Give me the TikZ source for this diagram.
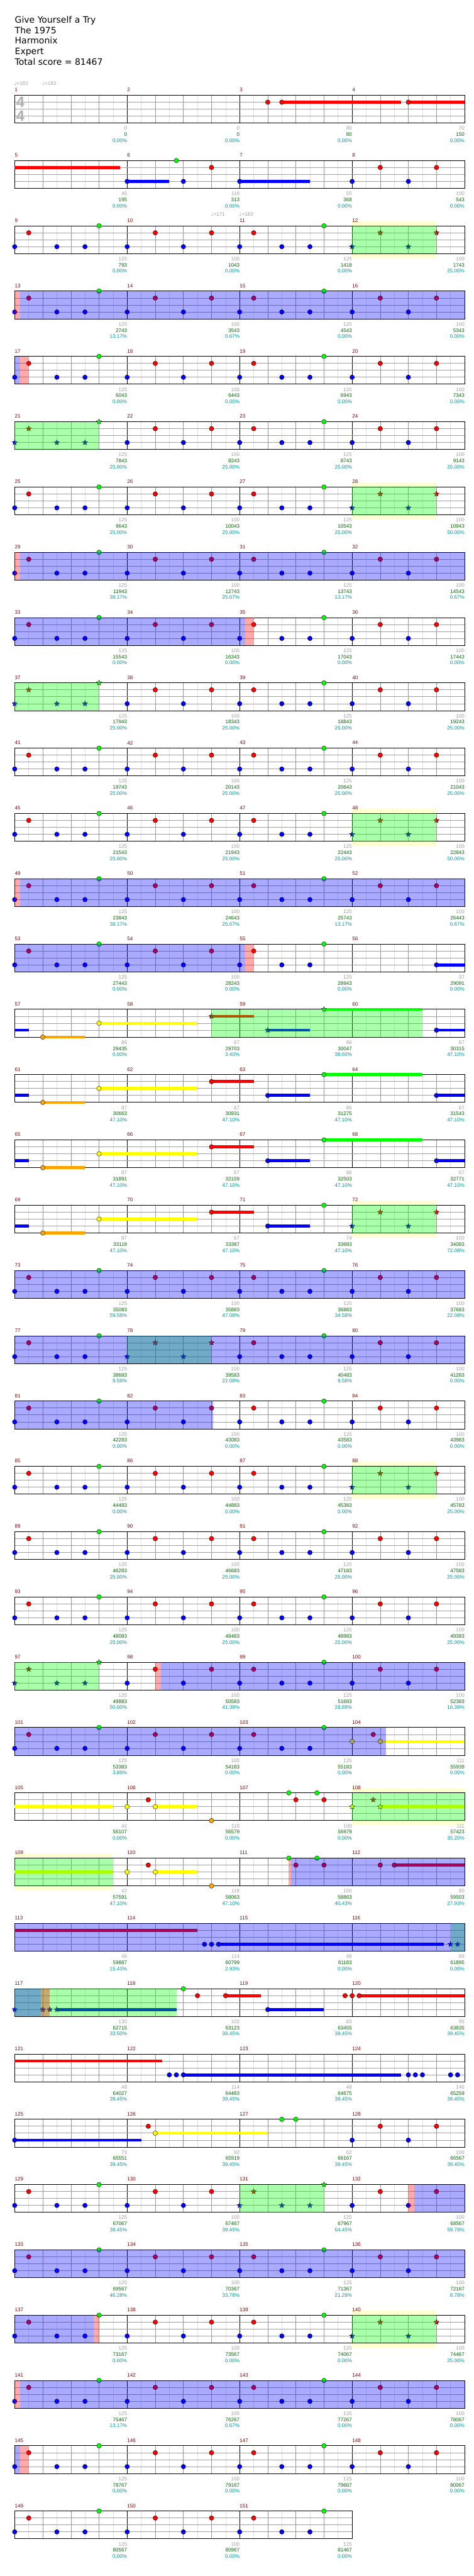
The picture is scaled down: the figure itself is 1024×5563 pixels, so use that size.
\documentclass[tikz,border=0pt]{standalone}
\usepackage{fontspec}
\setmainfont{Liberation Sans}
\newfontfamily\rbtitlefont{DejaVu Sans}
\newfontfamily\rbsymfont{DejaVu Sans}
\usetikzlibrary{shapes.geometric}
\definecolor{rbG}{RGB}{0,255,0}
\definecolor{rbR}{RGB}{255,0,0}
\definecolor{rbY}{RGB}{255,255,0}
\definecolor{rbB}{RGB}{0,0,255}
\definecolor{rbO}{RGB}{255,165,0}
\definecolor{rbMeasC}{RGB}{128,0,0}
\definecolor{rbGrayC}{RGB}{160,160,160}
\definecolor{rbScoreC}{RGB}{0,100,0}
\definecolor{rbPctC}{RGB}{0,150,150}
\definecolor{rbBandC}{RGB}{255,255,210}
\definecolor{rbHalfC}{RGB}{222,222,222}
\definecolor{rbBeatC}{RGB}{150,150,150}
\definecolor{rbLaneC}{RGB}{160,160,160}
\definecolor{rbSigC}{RGB}{175,175,175}
\newcount\rbCnt
\tikzset{
 autoname/.code={\global\advance\rbCnt by 1\relax\pgfkeysalso{name=rbn\the\rbCnt}},
 rbhalf/.style={draw=rbHalfC,line width=0.8pt},
 rbbeat/.style={draw=rbBeatC,line width=0.8pt},
 rbbar/.style={draw=black,line width=0.8pt},
 rblane/.style={draw=rbLaneC,line width=1.2pt},
 rbborder/.style={draw=black,line width=1.3pt},
 rbsus/.style={line width=6.5pt},
 rbstar/.style={autoname,star,star points=5,star point ratio=2.3,minimum size=12pt,inner sep=0pt,draw=black,line width=0.5pt},
 rbsmall/.style={autoname,inner sep=0pt,font=\fontsize{11}{13}\selectfont},
 rbmeas/.style={rbsmall,anchor=west,text=rbMeasC},
 rblg/.style={rbsmall,anchor=east,text=rbGrayC},
 rbls/.style={rbsmall,anchor=east,text=rbScoreC},
 rblp/.style={rbsmall,anchor=east,text=rbPctC},
 rbtempo/.style={rbsmall,anchor=west,text=rbGrayC},
 rbtitle/.style={autoname,inner sep=0pt,anchor=base west,font=\rbtitlefont\fontsize{19}{23}\selectfont},
 rbsig/.style={autoname,inner sep=0pt,text=rbSigC,font=\bfseries\fontsize{32}{32}\selectfont},
}
\newcommand\rbBegin[1]{\begin{scope}[shift={(31.75,{205.7+141*#1})},x=60.75pt]\def\rbK{#1}}
\newcommand\rbEnd{\end{scope}}
\newcommand\rbMeas[1]{\foreach \m in {1,...,#1}{\pgfmathtruncatemacro\mn{4*\rbK+\m}\node[rbmeas] at ({4*(\m-1)},-11.5) {\mn};}}
\newcommand\rbGrid[1]{%
 \foreach \i in {1,...,#1}{\draw[rbhalf] ({\i-0.5},0) -- ({\i-0.5},60);}%
 \foreach \i in {1,...,#1}{\pgfmathtruncatemacro\rbmod{mod(\i,4)}\ifnum\rbmod=0 \draw[rbbar] (\i,0) -- (\i,60);\else\draw[rbbeat] (\i,0) -- (\i,60);\fi}%
 \foreach \l in {15,30,45}{\draw[rblane] (0,\l) -- (#1,\l);}%
 \draw[rbborder] (0,0) rectangle (#1,60);}
\newcommand\rbL[4]{\node[rblg] at ({4*#1},71.3) {#2};\node[rbls] at ({4*#1},84.7) {#3};\node[rblp] at ({4*#1},97.7) {#4};}
\newcommand\rbN[3]{\filldraw[fill=#3,draw=black,line width=0.5pt] (#1,#2) circle (5pt);}
\newcommand\rbT[3]{\node[rbstar,fill=#3] at (#1,#2) {};}
\newcommand\rbS[4]{\draw[rbsus,draw=#4] (#1,#2) -- (#3,#2);}
\newcommand\rbOD[2]{\fill[rbG,fill opacity=0.333] (#1,0) rectangle (#2,60);}
\newcommand\rbBO[2]{\fill[rbB,fill opacity=0.333] (#1,0) rectangle (#2,60);}
\newcommand\rbRO[2]{\fill[rbR,fill opacity=0.333] (#1,0) rectangle (#2,60);}
\newcommand\rbYB[2]{\fill[rbBandC] (#1,-10) rectangle (#2,0) (#1,60) rectangle (#2,70);}
\newcommand\rbPA[1]{#1{0}{45}{rbB}#1{0.5}{15}{rbR}#1{1.5}{45}{rbB}#1{2.5}{45}{rbB}#1{3}{0}{rbG}}
\newcommand\rbPB[1]{#1{4}{45}{rbB}#1{5}{15}{rbR}#1{6}{45}{rbB}#1{7}{15}{rbR}}
\newcommand\rbPC[1]{#1{8}{45}{rbB}#1{8.5}{15}{rbR}#1{9.5}{45}{rbB}#1{10.5}{45}{rbB}#1{11}{0}{rbG}}
\newcommand\rbPD[1]{#1{12}{45}{rbB}#1{13}{15}{rbR}#1{14}{45}{rbB}#1{15}{15}{rbR}}
\newcommand\rbP{\rbPA\rbN\rbPB\rbN\rbPC\rbN\rbPD\rbN}
\newcommand\rbStd{\rbGrid{16}\rbMeas{4}}
\newcommand\rbTempo[2]{\node[rbtempo] at (#1,-25) {{\rbsymfont ♩}=#2};}
\begin{document}
\begin{tikzpicture}[x=1pt,y=-1pt]
\useasboundingbox (0,0) rectangle (1024,5563);
\fill[white] (0,0) rectangle (1024,5563);
\node[rbtitle] at (32,49) {Give Yourself a Try};
\node[rbtitle] at (32,72) {The 1975};
\node[rbtitle] at (32,95) {Harmonix};
\node[rbtitle] at (32,118) {Expert};
\node[rbtitle] at (32,141) {Total score = 81467};
% row 0
\rbBegin{0}\rbStd
\rbTempo{-0.02}{183}\rbTempo{0.98}{183}
\node[rbsig] at (0.2,15) {4};\node[rbsig] at (0.2,45) {4};
\rbS{9.5}{15}{13.75}{rbR}\rbS{14}{15}{16}{rbR}
\rbN{9}{15}{rbR}\rbN{9.5}{15}{rbR}\rbN{14}{15}{rbR}
\rbL{1}{0}{0}{0.00\%}\rbL{2}{0}{0}{0.00\%}\rbL{3}{80}{80}{0.00\%}\rbL{4}{70}{150}{0.00\%}
\rbEnd
% row 1
\rbBegin{1}\rbStd
\rbS{0}{15}{3.75}{rbR}\rbS{4}{45}{5.5}{rbB}\rbS{8}{45}{10.5}{rbB}
\rbN{4}{45}{rbB}\rbN{5.75}{0}{rbG}\rbN{6}{45}{rbB}\rbN{7}{15}{rbR}\rbN{8}{45}{rbB}\rbPD\rbN
\rbL{1}{45}{195}{0.00\%}\rbL{2}{118}{313}{0.00\%}\rbL{3}{55}{368}{0.00\%}\rbL{4}{100}{543}{0.00\%}
\rbEnd
% row 2
\rbBegin{2}\rbYB{12}{15}\rbStd
\rbTempo{6.98}{171}\rbTempo{7.98}{183}
\rbPA\rbN\rbPB\rbN\rbPC\rbN\rbPD\rbT\rbOD{12}{15}
\rbL{1}{125}{793}{0.00\%}\rbL{2}{100}{1043}{0.00\%}\rbL{3}{125}{1418}{0.00\%}\rbL{4}{100}{1743}{25.00\%}
\rbEnd
% row 3
\rbBegin{3}\rbStd\rbP\rbRO{0}{0.2}\rbBO{0.2}{16}
\rbL{1}{125}{2743}{13.17\%}\rbL{2}{100}{3543}{0.67\%}\rbL{3}{125}{4543}{0.00\%}\rbL{4}{100}{5343}{0.00\%}
\rbEnd
% row 4
\rbBegin{4}\rbStd\rbP\rbBO{0}{0.2}\rbRO{0.2}{0.5}
\rbL{1}{125}{6043}{0.00\%}\rbL{2}{100}{6443}{0.00\%}\rbL{3}{125}{6943}{0.00\%}\rbL{4}{100}{7343}{0.00\%}
\rbEnd
% row 5
\rbBegin{5}\rbStd\rbPA\rbT\rbPB\rbN\rbPC\rbN\rbPD\rbN\rbOD{0}{3}
\rbL{1}{125}{7843}{25.00\%}\rbL{2}{100}{8243}{25.00\%}\rbL{3}{125}{8743}{25.00\%}\rbL{4}{100}{9143}{25.00\%}
\rbEnd
% row 6
\rbBegin{6}\rbYB{12}{15}\rbStd\rbPA\rbN\rbPB\rbN\rbPC\rbN\rbPD\rbT\rbOD{12}{15}
\rbL{1}{125}{9643}{25.00\%}\rbL{2}{100}{10043}{25.00\%}\rbL{3}{125}{10543}{25.00\%}\rbL{4}{100}{10943}{50.00\%}
\rbEnd
% row 7
\rbBegin{7}\rbStd\rbP\rbRO{0}{0.2}\rbBO{0.2}{16}
\rbL{1}{125}{11943}{38.17\%}\rbL{2}{100}{12743}{25.67\%}\rbL{3}{125}{13743}{13.17\%}\rbL{4}{100}{14543}{0.67\%}
\rbEnd
% row 8
\rbBegin{8}\rbStd\rbP\rbBO{0}{8.2}\rbRO{8.2}{8.5}
\rbL{1}{125}{15543}{0.00\%}\rbL{2}{100}{16343}{0.00\%}\rbL{3}{125}{17043}{0.00\%}\rbL{4}{100}{17443}{0.00\%}
\rbEnd
% row 9
\rbBegin{9}\rbStd\rbPA\rbT\rbPB\rbN\rbPC\rbN\rbPD\rbN\rbOD{0}{3}
\rbL{1}{125}{17943}{25.00\%}\rbL{2}{100}{18343}{25.00\%}\rbL{3}{125}{18843}{25.00\%}\rbL{4}{100}{19243}{25.00\%}
\rbEnd
% row 10
\rbBegin{10}\rbStd\rbP
\rbL{1}{125}{19743}{25.00\%}\rbL{2}{100}{20143}{25.00\%}\rbL{3}{125}{20643}{25.00\%}\rbL{4}{100}{21043}{25.00\%}
\rbEnd
% row 11
\rbBegin{11}\rbYB{12}{15}\rbStd\rbPA\rbN\rbPB\rbN\rbPC\rbN\rbPD\rbT\rbOD{12}{15}
\rbL{1}{125}{21543}{25.00\%}\rbL{2}{100}{21943}{25.00\%}\rbL{3}{125}{22443}{25.00\%}\rbL{4}{100}{22843}{50.00\%}
\rbEnd
% row 12
\rbBegin{12}\rbStd\rbP\rbRO{0}{0.2}\rbBO{0.2}{16}
\rbL{1}{125}{23843}{38.17\%}\rbL{2}{100}{24643}{25.67\%}\rbL{3}{125}{25743}{13.17\%}\rbL{4}{100}{26443}{0.67\%}
\rbEnd
% row 13
\rbBegin{13}\rbStd\rbS{15}{45}{16}{rbB}
\rbPA\rbN\rbPB\rbN\rbPC\rbN\rbN{15}{45}{rbB}\rbBO{0}{8.2}\rbRO{8.2}{8.5}
\rbL{1}{125}{27443}{0.00\%}\rbL{2}{100}{28243}{0.00\%}\rbL{3}{125}{28943}{0.00\%}\rbL{4}{37}{29091}{0.00\%}
\rbEnd
% row 14
\rbBegin{14}\rbStd
\rbS{0}{45}{0.5}{rbB}\rbS{1}{60}{2.5}{rbO}\rbS{3}{30}{6.5}{rbY}\rbS{7}{15}{8.5}{rbR}\rbS{9}{45}{10.5}{rbB}\rbS{11}{0}{14.5}{rbG}\rbS{15}{45}{16}{rbB}
\rbN{1}{60}{rbO}\rbN{3}{30}{rbY}\rbT{7}{15}{rbR}\rbT{9}{45}{rbB}\rbT{11}{0}{rbG}\rbN{15}{45}{rbB}
\rbOD{7}{14.5}
\rbL{1}{86}{29435}{0.00\%}\rbL{2}{67}{29703}{3.40\%}\rbL{3}{86}{30047}{38.60\%}\rbL{4}{67}{30315}{47.10\%}
\rbEnd
% row 15
\rbBegin{15}\rbStd
\rbS{0}{45}{0.5}{rbB}\rbS{1}{60}{2.5}{rbO}\rbS{3}{30}{6.5}{rbY}\rbS{7}{15}{8.5}{rbR}\rbS{9}{45}{10.5}{rbB}\rbS{11}{0}{14.5}{rbG}\rbS{15}{45}{16}{rbB}
\rbN{1}{60}{rbO}\rbN{3}{30}{rbY}\rbN{7}{15}{rbR}\rbN{9}{45}{rbB}\rbN{11}{0}{rbG}\rbN{15}{45}{rbB}
\rbL{1}{87}{30663}{47.10\%}\rbL{2}{67}{30931}{47.10\%}\rbL{3}{86}{31275}{47.10\%}\rbL{4}{67}{31543}{47.10\%}
\rbEnd
% row 16
\rbBegin{16}\rbStd
\rbS{0}{45}{0.5}{rbB}\rbS{1}{60}{2.5}{rbO}\rbS{3}{30}{6.5}{rbY}\rbS{7}{15}{8.5}{rbR}\rbS{9}{45}{10.5}{rbB}\rbS{11}{0}{14.5}{rbG}\rbS{15}{45}{16}{rbB}
\rbN{1}{60}{rbO}\rbN{3}{30}{rbY}\rbN{7}{15}{rbR}\rbN{9}{45}{rbB}\rbN{11}{0}{rbG}\rbN{15}{45}{rbB}
\rbL{1}{87}{31891}{47.10\%}\rbL{2}{67}{32159}{47.10\%}\rbL{3}{86}{32503}{47.10\%}\rbL{4}{67}{32771}{47.10\%}
\rbEnd
% row 17
\rbBegin{17}\rbYB{12}{15}\rbStd
\rbS{0}{45}{0.5}{rbB}\rbS{1}{60}{2.5}{rbO}\rbS{3}{30}{6.5}{rbY}\rbS{7}{15}{8.5}{rbR}\rbS{9}{45}{10.5}{rbB}
\rbN{1}{60}{rbO}\rbN{3}{30}{rbY}\rbN{7}{15}{rbR}\rbN{9}{45}{rbB}\rbN{11}{0}{rbG}\rbPD\rbT
\rbOD{12}{15}
\rbL{1}{87}{33119}{47.10\%}\rbL{2}{67}{33387}{47.10\%}\rbL{3}{74}{33683}{47.10\%}\rbL{4}{100}{34083}{72.08\%}
\rbEnd
% row 18
\rbBegin{18}\rbStd\rbP\rbBO{0}{16}
\rbL{1}{125}{35083}{59.58\%}\rbL{2}{100}{35883}{47.08\%}\rbL{3}{125}{36883}{34.58\%}\rbL{4}{100}{37683}{22.08\%}
\rbEnd
% row 19
\rbBegin{19}\rbStd\rbPA\rbN\rbPB\rbT\rbPC\rbN\rbPD\rbN\rbOD{4}{7}\rbBO{0}{16}
\rbL{1}{125}{38683}{9.58\%}\rbL{2}{100}{39583}{22.08\%}\rbL{3}{125}{40483}{9.58\%}\rbL{4}{100}{41283}{0.00\%}
\rbEnd
% row 20
\rbBegin{20}\rbStd\rbP\rbBO{0}{7.05}
\rbL{1}{125}{42283}{0.00\%}\rbL{2}{100}{43083}{0.00\%}\rbL{3}{125}{43583}{0.00\%}\rbL{4}{100}{43983}{0.00\%}
\rbEnd
% row 21
\rbBegin{21}\rbYB{12}{15}\rbStd\rbPA\rbN\rbPB\rbN\rbPC\rbN\rbPD\rbT\rbOD{12}{15}
\rbL{1}{125}{44483}{0.00\%}\rbL{2}{100}{44883}{0.00\%}\rbL{3}{125}{45383}{0.00\%}\rbL{4}{100}{45783}{25.00\%}
\rbEnd
% row 22
\rbBegin{22}\rbStd\rbP
\rbL{1}{125}{46283}{25.00\%}\rbL{2}{100}{46683}{25.00\%}\rbL{3}{125}{47183}{25.00\%}\rbL{4}{100}{47583}{25.00\%}
\rbEnd
% row 23
\rbBegin{23}\rbStd\rbP
\rbL{1}{125}{48083}{25.00\%}\rbL{2}{100}{48483}{25.00\%}\rbL{3}{125}{48983}{25.00\%}\rbL{4}{100}{49383}{25.00\%}
\rbEnd
% row 24
\rbBegin{24}\rbStd\rbPA\rbT\rbPB\rbN\rbPC\rbN\rbPD\rbN\rbOD{0}{3}\rbRO{5}{5.2}\rbBO{5.2}{16}
\rbL{1}{125}{49883}{50.00\%}\rbL{2}{100}{50583}{41.39\%}\rbL{3}{125}{51683}{28.89\%}\rbL{4}{100}{52383}{16.39\%}
\rbEnd
% row 25
\rbBegin{25}\rbStd\rbS{13}{30}{16}{rbY}
\rbPA\rbN\rbPB\rbN\rbPC\rbN\rbN{12}{30}{rbY}\rbN{12.75}{15}{rbR}\rbN{13}{30}{rbY}
\rbBO{0}{13.2}
\rbL{1}{125}{53383}{3.89\%}\rbL{2}{100}{54183}{0.00\%}\rbL{3}{125}{55183}{0.00\%}\rbL{4}{111}{55939}{0.00\%}
\rbEnd
% row 26
\rbBegin{26}\rbYB{12}{16}\rbStd
\rbS{0}{30}{3.5}{rbY}\rbS{5}{30}{6.5}{rbY}\rbS{13}{30}{16}{rbY}
\rbN{4}{30}{rbY}\rbN{4.75}{15}{rbR}\rbN{5}{30}{rbY}\rbN{7}{60}{rbO}\rbN{9.75}{0}{rbG}\rbN{10}{15}{rbR}\rbN{10.75}{0}{rbG}\rbN{11}{15}{rbR}
\rbT{12}{30}{rbY}\rbT{12.75}{15}{rbR}\rbT{13}{30}{rbY}
\rbOD{12}{16}
\rbL{1}{42}{56107}{0.00\%}\rbL{2}{118}{56579}{0.00\%}\rbL{3}{100}{56979}{0.00\%}\rbL{4}{111}{57423}{35.20\%}
\rbEnd
% row 27
\rbBegin{27}\rbYB{0}{3.5}\rbStd
\rbS{0}{30}{3.5}{rbY}\rbS{5}{30}{6.5}{rbY}\rbS{13.5}{15}{16}{rbR}
\rbN{4}{30}{rbY}\rbN{4.75}{15}{rbR}\rbN{5}{30}{rbY}\rbN{7}{60}{rbO}\rbN{9.75}{0}{rbG}\rbN{10}{15}{rbR}\rbN{10.75}{0}{rbG}\rbN{11}{15}{rbR}\rbN{13}{15}{rbR}\rbN{13.5}{15}{rbR}
\rbOD{0}{3.5}\rbRO{9.74}{9.83}\rbBO{9.83}{16}
\rbL{1}{42}{57591}{47.10\%}\rbL{2}{118}{58063}{47.10\%}\rbL{3}{100}{58863}{40.43\%}\rbL{4}{80}{59503}{27.93\%}
\rbEnd
% row 28
\rbBegin{28}\rbStd
\rbS{0}{15}{6.5}{rbR}\rbS{7.25}{45}{15.25}{rbB}
\rbN{6.75}{45}{rbB}\rbN{7}{45}{rbB}\rbN{7.25}{45}{rbB}\rbT{15.5}{45}{rbB}\rbT{15.75}{45}{rbB}
\rbOD{15.5}{16}\rbBO{0}{16}
\rbL{1}{48}{59887}{15.43\%}\rbL{2}{114}{60799}{2.93\%}\rbL{3}{48}{61183}{0.00\%}\rbL{4}{89}{61895}{0.00\%}
\rbEnd
% row 29
\rbBegin{29}\rbStd
\rbS{1.5}{45}{5.75}{rbB}\rbS{7.5}{15}{8.75}{rbR}\rbS{9}{45}{11}{rbB}\rbS{12.25}{15}{16}{rbR}
\rbT{0}{45}{rbB}\rbT{1}{45}{rbB}\rbT{1.25}{45}{rbB}\rbT{1.5}{45}{rbB}
\rbN{6}{0}{rbG}\rbN{6.5}{15}{rbR}\rbN{7.5}{15}{rbR}\rbN{9}{45}{rbB}\rbN{11.75}{15}{rbR}\rbN{12}{15}{rbR}\rbN{12.25}{15}{rbR}
\rbOD{0}{5.75}\rbBO{0}{0.925}\rbRO{0.925}{1.24}
\rbL{1}{130}{62715}{33.50\%}\rbL{2}{102}{63123}{39.45\%}\rbL{3}{83}{63455}{39.45\%}\rbL{4}{95}{63835}{39.45\%}
\rbEnd
% row 30
\rbBegin{30}\rbStd
\rbS{0}{15}{5.25}{rbR}\rbS{6}{45}{13.75}{rbB}
\rbN{5.5}{45}{rbB}\rbN{5.75}{45}{rbB}\rbN{6}{45}{rbB}\rbN{14}{45}{rbB}\rbN{14.25}{45}{rbB}\rbN{14.5}{45}{rbB}\rbN{15.5}{45}{rbB}\rbN{15.75}{45}{rbB}
\rbL{1}{48}{64027}{39.45\%}\rbL{2}{114}{64483}{39.45\%}\rbL{3}{48}{64675}{39.45\%}\rbL{4}{146}{65259}{39.45\%}
\rbEnd
% row 31
\rbBegin{31}\rbStd
\rbS{0}{45}{4.5}{rbB}\rbS{5}{30}{9}{rbY}
\rbN{0}{45}{rbB}\rbN{4.75}{15}{rbR}\rbN{5}{30}{rbY}\rbN{9.5}{0}{rbG}\rbN{10}{0}{rbG}\rbPD\rbN
\rbL{1}{73}{65551}{39.45\%}\rbL{2}{92}{65919}{39.45\%}\rbL{3}{62}{66167}{39.45\%}\rbL{4}{100}{66567}{39.45\%}
\rbEnd
% row 32
\rbBegin{32}\rbStd\rbPA\rbN\rbPB\rbN\rbPC\rbT\rbPD\rbN\rbOD{8}{11}\rbRO{14}{14.2}\rbBO{14.2}{16}
\rbL{1}{125}{67067}{39.45\%}\rbL{2}{100}{67467}{39.45\%}\rbL{3}{125}{67967}{64.45\%}\rbL{4}{100}{68567}{58.78\%}
\rbEnd
% row 33
\rbBegin{33}\rbStd\rbP\rbBO{0}{16}
\rbL{1}{125}{69567}{46.28\%}\rbL{2}{100}{70367}{33.78\%}\rbL{3}{125}{71367}{21.28\%}\rbL{4}{100}{72167}{8.78\%}
\rbEnd
% row 34
\rbBegin{34}\rbYB{12}{15}\rbStd\rbPA\rbN\rbPB\rbN\rbPC\rbN\rbPD\rbT\rbOD{12}{15}\rbBO{0}{2.8}\rbRO{2.8}{3}
\rbL{1}{125}{73167}{0.00\%}\rbL{2}{100}{73567}{0.00\%}\rbL{3}{125}{74067}{0.00\%}\rbL{4}{100}{74467}{25.00\%}
\rbEnd
% row 35
\rbBegin{35}\rbStd\rbP\rbRO{0}{0.2}\rbBO{0.2}{16}
\rbL{1}{125}{75467}{13.17\%}\rbL{2}{100}{76267}{0.67\%}\rbL{3}{125}{77267}{0.00\%}\rbL{4}{100}{78067}{0.00\%}
\rbEnd
% row 36
\rbBegin{36}\rbStd\rbP\rbBO{0}{0.2}\rbRO{0.2}{0.5}
\rbL{1}{125}{78767}{0.00\%}\rbL{2}{100}{79167}{0.00\%}\rbL{3}{125}{79667}{0.00\%}\rbL{4}{100}{80067}{0.00\%}
\rbEnd
% row 37
\rbBegin{37}\rbGrid{12}\rbMeas{3}\rbPA\rbN\rbPB\rbN\rbPC\rbN
\rbL{1}{125}{80567}{0.00\%}\rbL{2}{100}{80967}{0.00\%}\rbL{3}{125}{81467}{0.00\%}
\rbEnd
\end{tikzpicture}
\end{document}
